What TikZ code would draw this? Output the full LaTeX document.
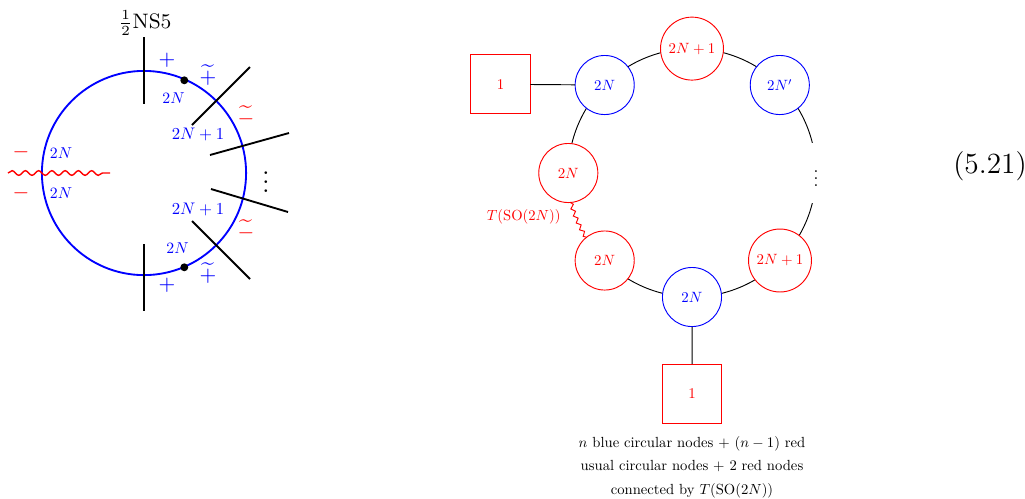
\documentclass[tikz,border=0pt]{standalone}
\usetikzlibrary{decorations.pathmorphing, backgrounds}
\tikzset{
  gaugeblue/.style={circle, draw=blue, fill=white, text=blue, minimum size=39.7pt, inner sep=0pt, scale=0.64},
  gaugered/.style={circle, draw=red, fill=white, text=red, minimum size=39.7pt, inner sep=0pt, scale=0.64},
  gaugewide/.style={gaugered, minimum size=42.3pt},
  flavsq/.style={rectangle, draw=red, text=red, minimum size=39.7pt, inner sep=0pt, scale=0.64},
  ringarc/.style={bend left=22.5, looseness=0.884},
  brane/.style={draw, thick},
  wavy/.style={red, decorate, decoration={snake, amplitude=#1, segment length=5.7pt, post length=2pt}},
  bluelab/.style={text=blue, inner sep=0pt, scale=0.72},
  signblue/.style={text=blue, font=\small, inner sep=0pt},
  signred/.style={text=red, font=\small, inner sep=0pt},
}

\begin{document}
\begin{tikzpicture}[x=0.43pt, y=0.43pt]
  \useasboundingbox (0,0) rectangle (1025,-498);
  % left: brane picture
  \coordinate (ctr) at (144,-173);
  \draw[blue, thick] (ctr) circle [radius=43.9pt];
  \coordinate (nsAa) at (144,-37);    \coordinate (nsAb) at (144,-104);
  \coordinate (nsBa) at (144,-244);   \coordinate (nsBb) at (144,-311);
  \coordinate (nsCa) at (192,-125);   \coordinate (nsCb) at (250,-67);
  \coordinate (nsDa) at (192,-221);   \coordinate (nsDb) at (250,-279);
  \coordinate (nsEa) at (210,-155);   \coordinate (nsEb) at (289,-133);
  \coordinate (nsFa) at (211,-189);   \coordinate (nsFb) at (288,-212);
  \draw[brane] (nsAa) -- (nsAb);
  \draw[brane] (nsBa) -- (nsBb);
  \draw[brane] (nsCa) -- (nsCb);
  \draw[brane] (nsDa) -- (nsDb);
  \draw[brane] (nsEa) -- (nsEb);
  \draw[brane] (nsFa) -- (nsFb);
  \coordinate (waveL) at (8,-173);    \coordinate (waveR) at (110,-173);
  \draw[wavy=1pt, semithick] (waveL) -- (waveR);
  \fill (184.3,-80.3) circle [radius=1.7pt];
  \fill (184.3,-267.3) circle [radius=1.7pt];
  \node (nslab) at (145,-23) {\small $\frac{1}{2}$NS5};
  \node[signblue] (pA) at (167,-60) {$+$};
  \node[signblue] (pB) at (167,-285) {$+$};
  \node[signblue] (tA) at (208,-75) {$\widetilde{+}$};
  \node[signblue] (tB) at (208,-273) {$\widetilde{+}$};
  \node[signred] (tC) at (246,-116) {$\widetilde{-}$};
  \node[signred] (tD) at (246,-230) {$\widetilde{-}$};
  \node[signred] (mA) at (21,-152) {$-$};
  \node[signred] (mB) at (21,-193) {$-$};
  \node[bluelab, scale=0.94] (lA) at (61,-153) {$2N$};
  \node[bluelab, scale=0.94] (lB) at (61,-193) {$2N$};
  \node[bluelab, scale=0.94] (lC) at (173.5,-98) {$2N$};
  \node[bluelab, scale=0.94] (lD) at (177.5,-248) {$2N$};
  \node[bluelab] (lE) at (198,-134) {$2N+1$};
  \node[bluelab] (lF) at (198,-209) {$2N+1$};
  \node[font=\large] (dotsL) at (266,-175) {$\vdots$};
  % right: quiver
  \node[gaugewide] (rTop) at (692,-48.6) {$2N+1$};
  \node[gaugeblue] (bTL) at (604.7,-85) {$2N$};
  \node[gaugeblue] (bTR) at (779.8,-85) {$2N'$};
  \node[gaugered] (rL) at (568.3,-173) {$2N$};
  \node[gaugered] (rBL) at (604.7,-260.5) {$2N$};
  \node[gaugeblue] (bB) at (692,-297) {$2N$};
  \node[gaugewide] (rBR) at (780,-260.5) {$2N+1$};
  \node[fill=white, inner sep=0pt, minimum height=34pt, minimum width=24pt, scale=0.75] (dotsR) at (816,-173) {$\vdots$};
  \node[flavsq] (fA) at (500.5,-84.3) {$1$};
  \node[flavsq] (fB) at (692.2,-394) {$1$};
  \begin{scope}[on background layer]
    \draw (bTL.center) to[ringarc] (rTop.center);
    \draw (rTop.center) to[ringarc] (bTR.center);
    \draw (bTR.center) to[ringarc] (dotsR.center);
    \draw (dotsR.center) to[ringarc] (rBR.center);
    \draw (rBR.center) to[ringarc] (bB.center);
    \draw (bB.center) to[ringarc] (rBL.center);
    \draw (rL.center) to[ringarc] (bTL.center);
    \draw[wavy=0.8pt, decoration={segment length=3.2pt, post length=1pt}] (rBL.center) to[ringarc] (rL.center);
  \end{scope}
  \draw (fA) -- (bTL);
  \draw (fB) -- (bB);
  \node[text=red, inner sep=0pt, scale=0.63] (tlab) at (523.7,-216.5) {$T(\mathrm{SO}(2N))$};
  \node[align=center, font=\fontsize{10}{16}\selectfont, inner sep=0pt, scale=0.63] (caption) at (692,-467)
    {$n$ blue circular nodes $+$ $(n-1)$ red\\ usual circular nodes $+$ 2 red nodes\\ connected by $T(\mathrm{SO}(2N))$};
  \node[font=\large, inner sep=0pt, scale=1.05] (eqnum) at (990,-166) {(5.21)};
\end{tikzpicture}
\end{document}
